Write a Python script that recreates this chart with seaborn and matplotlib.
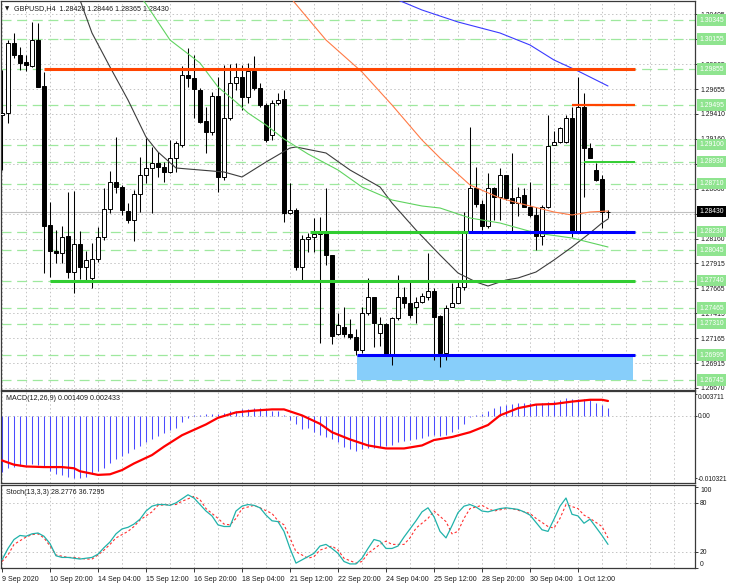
import numpy as np
import pandas as pd
import matplotlib
matplotlib.use("Agg")
import matplotlib.pyplot as plt
import seaborn as sns

# ---- candles (GBPUSD H4), bar 0 = 9 Sep 2020 12:00 ----
opens = [1.29395, 1.29415, 1.30115, 1.29995, 1.29925, 1.29885, 1.30145, 1.29685, 1.28295, 1.28035,
         1.28015, 1.28185, 1.27825, 1.28105, 1.27875, 1.27765, 1.27955, 1.28175, 1.28455, 1.28725,
         1.28675, 1.28435, 1.28345, 1.28605, 1.28795, 1.28865, 1.28915, 1.28875, 1.28825, 1.28965,
         1.29095, 1.29795, 1.29765, 1.29645, 1.29335, 1.29225, 1.29585, 1.28775, 1.29365, 1.29715,
         1.29775, 1.29575, 1.29835, 1.29665, 1.29495, 1.29195, 1.29515, 1.29555, 1.28415, 1.28445,
         1.27875, 1.28155, 1.28175, 1.28205, 1.28215, 1.27995, 1.27205, 1.27275, 1.27205, 1.27175,
         1.27045, 1.27415, 1.27575, 1.27215, 1.27305, 1.27005, 1.27365, 1.27575, 1.27515, 1.27475,
         1.27525, 1.27575, 1.27635, 1.27385, 1.27015, 1.27475, 1.27515, 1.27675, 1.28235, 1.28665,
         1.28505, 1.28285, 1.28665, 1.28575, 1.28795, 1.28565, 1.28515, 1.28595, 1.28475, 1.28395,
         1.28185, 1.28475, 1.29095, 1.29125, 1.29125, 1.29365, 1.28225, 1.29475, 1.29065, 1.28845,
         1.28755, 1.28428]
highs = [1.29845, 1.30145, 1.30215, 1.30075, 1.29995, 1.30325, 1.30315, 1.29825, 1.28525, 1.28245,
         1.28285, 1.28625, 1.28635, 1.28235, 1.28035, 1.28115, 1.28275, 1.28665, 1.28835, 1.29175,
         1.28695, 1.28515, 1.28645, 1.28975, 1.29165, 1.29075, 1.29025, 1.28925, 1.29145, 1.29135,
         1.29885, 1.30065, 1.29995, 1.29665, 1.29475, 1.29625, 1.29775, 1.29895, 1.29905, 1.29915,
         1.29895, 1.29915, 1.29985, 1.29715, 1.29515, 1.29545, 1.29615, 1.29645, 1.28715, 1.28465,
         1.28195, 1.28215, 1.28365, 1.28375, 1.28665, 1.27995, 1.27415, 1.27475, 1.27355, 1.27255,
         1.27475, 1.27765, 1.27575, 1.27375, 1.27315, 1.27375, 1.27795, 1.27675, 1.27725, 1.27575,
         1.27615, 1.28015, 1.27665, 1.27395, 1.27495, 1.27715, 1.27725, 1.28425, 1.29275, 1.28875,
         1.28545, 1.28815, 1.28675, 1.28865, 1.28795, 1.29015, 1.28675, 1.28665, 1.28725, 1.28475,
         1.28495, 1.29395, 1.29235, 1.29275, 1.29395, 1.29475, 1.29775, 1.29615, 1.29115, 1.28915,
         1.28795, 1.28446]
lows = [1.28845, 1.29315, 1.29965, 1.29845, 1.29835, 1.29875, 1.29675, 1.27815, 1.27775, 1.27915,
        1.27915, 1.27765, 1.27615, 1.27755, 1.27745, 1.27665, 1.27925, 1.28145, 1.28415, 1.28615,
        1.28395, 1.28315, 1.28135, 1.28425, 1.28715, 1.28415, 1.28775, 1.28725, 1.28815, 1.28825,
        1.29075, 1.29675, 1.29365, 1.29315, 1.29015, 1.29195, 1.28625, 1.28745, 1.29345, 1.29645,
        1.29445, 1.29515, 1.29645, 1.29475, 1.29125, 1.29145, 1.29495, 1.28325, 1.28405, 1.27845,
        1.27745, 1.28025, 1.28025, 1.27115, 1.27895, 1.27105, 1.27195, 1.27175, 1.27155, 1.26995,
        1.27015, 1.27395, 1.27075, 1.27085, 1.27005, 1.26895, 1.27345, 1.27465, 1.27365, 1.27315,
        1.27515, 1.27545, 1.26945, 1.26875, 1.26945, 1.27475, 1.27515, 1.27645, 1.28225, 1.28475,
        1.28245, 1.28265, 1.28345, 1.28345, 1.28545, 1.28215, 1.28385, 1.28475, 1.28375, 1.28045,
        1.28095, 1.28465, 1.29095, 1.29115, 1.29115, 1.28175, 1.28215, 1.28575, 1.28975, 1.28735,
        1.28265, 1.28365]
closes = [1.29415, 1.30115, 1.29995, 1.29915, 1.29895, 1.30145, 1.29675, 1.28285, 1.28035, 1.28015,
          1.28175, 1.27825, 1.28105, 1.27875, 1.27945, 1.27955, 1.28175, 1.28455, 1.28725, 1.28675,
          1.28445, 1.28345, 1.28605, 1.28795, 1.28865, 1.28915, 1.28875, 1.28825, 1.28965, 1.29115,
          1.29795, 1.29765, 1.29655, 1.29325, 1.29225, 1.29585, 1.28775, 1.29365, 1.29715, 1.29775,
          1.29575, 1.29835, 1.29665, 1.29495, 1.29145, 1.29515, 1.29545, 1.28415, 1.28445, 1.27875,
          1.28155, 1.28175, 1.28205, 1.28225, 1.27995, 1.27185, 1.27295, 1.27205, 1.27175, 1.27045,
          1.27415, 1.27575, 1.27315, 1.27305, 1.27005, 1.27365, 1.27575, 1.27515, 1.27395, 1.27525,
          1.27585, 1.27635, 1.27375, 1.27015, 1.27465, 1.27515, 1.27675, 1.28225, 1.28665, 1.28505,
          1.28285, 1.28665, 1.28575, 1.28795, 1.28565, 1.28515, 1.28575, 1.28475, 1.28395, 1.28185,
          1.28475, 1.29085, 1.29125, 1.29265, 1.29365, 1.28225, 1.29475, 1.29065, 1.28965, 1.28745,
          1.28425, 1.28430]

# moving averages (bar, price)
ma_black_bar = [11, 13, 15, 18, 21, 24, 26, 29, 33, 37, 40, 44, 48, 49, 54, 58, 63, 65, 69, 73,
                76, 79, 81, 84, 86, 89, 92, 95, 98, 100, 101]
ma_black = [1.30850, 1.30545, 1.30215, 1.29875, 1.29545, 1.29175, 1.29025, 1.28865, 1.28845, 1.28825,
            1.28775, 1.28925, 1.29065, 1.29075, 1.29015, 1.28845, 1.28675, 1.28515, 1.28245, 1.27995,
            1.27815, 1.27725, 1.27685, 1.27745, 1.27765, 1.27825, 1.27945, 1.28075, 1.28215, 1.28315,
            1.28355]
ma_green_bar = [22, 24, 28, 33, 36, 39, 41, 44, 47, 51, 56, 60, 65, 70, 73, 78, 83, 89, 95, 101]
ma_green = [1.30665, 1.30505, 1.30145, 1.29915, 1.29675, 1.29525, 1.29415, 1.29295, 1.29155, 1.29005,
            1.28845, 1.28675, 1.28545, 1.28485, 1.28465, 1.28365, 1.28315, 1.28215, 1.28165, 1.28075]
ma_orange_bar = [47, 54, 60, 65, 70, 73, 78, 83, 86, 92, 95, 98, 101]
ma_orange = [1.30645, 1.30145, 1.29825, 1.29495, 1.29145, 1.28965, 1.28695, 1.28565, 1.28515,
             1.28425, 1.28395, 1.28425, 1.28435]
ma_blue_bar = [64, 70, 76, 83, 88, 92, 96, 101]
ma_blue = [1.30595, 1.30445, 1.30325, 1.30215, 1.30095, 1.29945, 1.29835, 1.29685]

# drawn levels: price, from bar, to bar, colour, width
levels = [(1.29855, 7, 105.5, "#ff4500", 2.2),
          (1.29495, 95, 105.5, "#ff4500", 1.6),
          (1.28930, 97, 105.5, "#32cd32", 1.4),
          (1.28230, 51.3, 77.7, "#32cd32", 2.2),
          (1.28230, 77.7, 105.5, "#0000ff", 2.2),
          (1.27740, 8, 105.5, "#32cd32", 2.2),
          (1.26995, 59.2, 105.5, "#0000ff", 2.2)]
zone = (59.2, 105.2, 1.26745, 1.26995)
dashed_levels = [1.30345, 1.30155, 1.29855, 1.29495, 1.29100, 1.28930, 1.28710,
                 1.28230, 1.28045, 1.27740, 1.27465, 1.27310, 1.26995, 1.26745]
price_ticks = [1.30405, 1.30155, 1.29905, 1.29655, 1.29410, 1.29160, 1.28910, 1.28660,
               1.28410, 1.28160, 1.27915, 1.27665, 1.27415, 1.27165, 1.26915, 1.26670]
hidden_ticks = [1.30155, 1.28910, 1.28410]   # labels covered by the level boxes
last_price = 1.28430

# MACD(12,26,9), values in pips
macd_hist = [-94, -86, -85, -83, -81, -80, -82, -85, -92, -96,
             -98, -101, -103, -103, -102, -97, -92, -87, -79, -72,
             -66, -61, -55, -50, -44, -39, -34, -29, -24, -20,
             -10, -3, 1, 2, 3, 4, 3, 5, 8, 9,
             11, 12, 14, 14, 12, 9, 8, 1, -7, -14,
             -22, -20, -27, -31, -35, -39, -43, -51, -55, -59,
             -55, -53, -53, -52, -50, -48, -44, -42, -40, -38,
             -36, -33, -32, -33, -31, -27, -22, -13, -2, 1,
             4, 9, 13, 17, 19, 20, 21, 22, 21, 20,
             21, 23, 25, 27, 30, 28, 29, 28, 26, 22,
             18, 14]
macd_sig_bar = [0, 2, 4, 7, 10, 12, 13, 16, 18, 20, 22, 25, 27, 30, 34, 36, 39, 42, 45, 47,
                50, 53, 55, 58, 61, 64, 67, 70, 72, 75, 78, 81, 83, 86, 89, 92, 95, 98, 100, 101]
macd_sig = [-74, -81, -84, -85, -85, -87, -92, -98, -97, -90, -79, -65, -51, -32, -14, -3, 6, 9, 11, 11,
            1, -13, -27, -39, -49, -54, -54, -49, -40, -35, -27, -15, 1, 13, 19, 20, 24, 27, 27, 25]

# Stoch(13,3,3)
stoch_k = [10, 24, 35, 40, 39, 42, 43, 39, 30, 15, 13, 13, 12, 11, 12, 13, 17, 25, 32, 42,
           48, 50, 54, 60, 70, 76, 78, 78, 77, 80, 85, 90, 86, 78, 70, 64, 53, 51, 51, 70,
           76, 78, 77, 74, 65, 58, 57, 45, 24, 6, 10, 14, 18, 27, 29, 24, 18, 8, 5, 5,
           12, 24, 35, 33, 24, 24, 27, 38, 48, 58, 69, 74, 63, 45, 37, 52, 68, 76, 78, 75,
           70, 69, 71, 73, 74, 73, 72, 69, 65, 56, 47, 45, 60, 76, 86, 66, 64, 55, 60, 50,
           40, 29]
stoch_d_bar = [0, 1, 2, 4, 5, 6, 7, 8, 9, 11, 12, 14, 15, 16, 17, 18, 19, 21, 22, 23,
               25, 26, 28, 29, 30, 32, 33, 34, 36, 37, 38, 39, 40, 42, 43, 45, 46, 47, 48, 49,
               51, 52, 53, 55, 56, 57, 59, 60, 61, 63, 64, 65, 67, 68, 69, 71, 72, 74, 75, 76,
               77, 78, 80, 81, 82, 84, 85, 86, 88, 89, 91, 92, 93, 94, 96, 97, 98, 100, 101]
stoch_d = [8, 16, 29, 38, 41, 42, 37, 27, 16, 13, 13, 11, 11, 16, 22, 29, 37, 45, 51, 59,
           69, 77, 78, 78, 82, 88, 84, 73, 61, 54, 53, 61, 73, 77, 74, 67, 58, 53, 37, 20,
           12, 14, 22, 27, 22, 12, 6, 8, 18, 29, 33, 29, 29, 37, 49, 61, 70, 57, 42, 45,
           61, 73, 77, 73, 70, 73, 73, 71, 67, 61, 51, 49, 61, 78, 73, 65, 61, 51, 37]

date_ticks = ["9 Sep 2020", "10 Sep 20:00", "14 Sep 04:00", "15 Sep 12:00", "16 Sep 20:00",
              "18 Sep 04:00", "21 Sep 12:00", "22 Sep 20:00", "24 Sep 04:00", "25 Sep 12:00",
              "28 Sep 20:00", "30 Sep 04:00", "1 Oct 12:00"]

sns.set_theme(style="white")
plt.rcParams["font.family"] = ["Liberation Sans", "DejaVu Sans"]

W, H = 730, 584
fig = plt.figure(figsize=(W / 100, H / 100), dpi=100)
fig.patch.set_facecolor("white")


def px_rect(x0, y0, x1, y1):
    return [x0 / W, 1 - y1 / H, (x1 - x0) / W, (y1 - y0) / H]


ax = fig.add_axes(px_rect(1, 1, 695, 390))
axm = fig.add_axes(px_rect(1, 391, 695, 483), sharex=ax)
axs = fig.add_axes(px_rect(1, 485, 695, 568), sharex=ax)

GRID = dict(color="#c4c4c4", lw=0.7, ls=(0, (1.5, 2.5)), zorder=0.5)
TXT = "#1a1a1a"

for a in (ax, axm, axs):
    a.set_facecolor("white")
    for s in a.spines.values():
        s.set_color("#3a3a3a")
        s.set_linewidth(0.9)
    a.yaxis.tick_right()
    a.tick_params(axis="y", direction="out", length=2.5, width=0.6, pad=1.2,
                  labelsize=4.9, colors=TXT, right=True, left=False)
    a.tick_params(axis="x", bottom=False, labelbottom=False)
    for b in range(0, 116, 4):
        a.axvline(b, **GRID)

ax.set_xlim(-1 / 6, 115.5)

# ---- main price panel ----
ax.set_ylim(1.26645, 1.30535)
ax.set_yticks(price_ticks)
ax.set_yticklabels(["" if p in hidden_ticks else f"{p:.5f}" for p in price_ticks])
for p in price_ticks:
    ax.axhline(p, **GRID)
for p in dashed_levels:
    ax.axhline(p, color="#9ee89e", lw=0.9, ls=(0, (8, 4.5)), zorder=1)
ax.axhline(last_price, color="#c0c0c0", lw=0.8, zorder=1.2)

df = pd.DataFrame({"open": opens, "high": highs, "low": lows, "close": closes})
df["bar"] = np.arange(len(df))
df["bottom"] = df[["open", "close"]].min(axis=1)
df["height"] = (df["close"] - df["open"]).abs().clip(lower=0.00002)
up = df["close"] >= df["open"]
ax.vlines(df["bar"], df["low"], df["high"], color="black", lw=0.75, zorder=3)
ax.bar(df.loc[up, "bar"], df.loc[up, "height"], bottom=df.loc[up, "bottom"], width=0.7,
       color="white", edgecolor="black", linewidth=0.7, zorder=4)
ax.bar(df.loc[~up, "bar"], df.loc[~up, "height"], bottom=df.loc[~up, "bottom"], width=0.7,
       color="black", edgecolor="black", linewidth=0.7, zorder=4)

for xs, ys, col in [(ma_black_bar, ma_black, "#3c3c3c"), (ma_green_bar, ma_green, "#5fd35f"),
                    (ma_orange_bar, ma_orange, "#ff7a45"), (ma_blue_bar, ma_blue, "#3a3aff")]:
    sns.lineplot(x=xs, y=ys, ax=ax, color=col, lw=0.8, zorder=5, legend=False)

ax.fill_between([zone[0], zone[1]], zone[2], zone[3], color="#87cefa", lw=0, zorder=2)
for price, b0, b1, col, lw in levels:
    ax.hlines(price, b0, b1, color=col, lw=lw, zorder=6)

ytr = ax.get_yaxis_transform()
for p in dashed_levels:
    ax.text(1 + 4 / 694, p, f"{p:.5f}", transform=ytr, ha="left", va="center", fontsize=4.9,
            color="white", clip_on=False, zorder=10,
            bbox=dict(boxstyle="square,pad=0.35", fc="#8fe48f", ec="none"))
ax.text(1 + 4 / 694, last_price, f"{last_price:.5f}", transform=ytr, ha="left", va="center",
        fontsize=4.9, color="white", clip_on=False, zorder=11,
        bbox=dict(boxstyle="square,pad=0.35", fc="black", ec="none"))

ax.text(4 / 694, 1 - 8 / 389, "\u25bc", transform=ax.transAxes, fontsize=4, color=TXT,
        va="center", ha="left", family=["DejaVu Sans"])
ax.text(13 / 694, 1 - 8 / 389, "GBPUSD,H4  1.28428 1.28446 1.28365 1.28430",
        transform=ax.transAxes, fontsize=5.1, color=TXT, va="center", ha="left")

# ---- MACD panel ----
axm.set_ylim(-0.01115, 0.00416)
axm.axhline(0, **GRID)
axm.vlines(np.arange(len(macd_hist)), 0, np.array(macd_hist) * 1e-4, color="#4b4bff", lw=0.75,
           zorder=2)
sns.lineplot(x=macd_sig_bar, y=np.array(macd_sig) * 1e-4, ax=axm, color="#ff0000", lw=1.6,
             zorder=3, legend=False)
axm.set_yticks([0.003711, 0.0, -0.010321])
axm.set_yticklabels(["0.003711", "0.00", "-0.010321"])
axm.tick_params(axis="y", length=1.5, pad=0.5, labelsize=4.8)
axm.get_yticklabels()[0].set_va("top")
axm.text(5 / 694, 1 - 7 / 92, "MACD(12,26,9) 0.001409 0.002433", transform=axm.transAxes,
         fontsize=5.1, color=TXT, va="center", ha="left")

# ---- Stochastic panel ----
axs.set_ylim(0, 102)
for lv in (20, 80):
    axs.axhline(lv, **GRID)
sns.lineplot(x=np.arange(len(stoch_k)), y=stoch_k, ax=axs, color="#20b2aa", lw=0.9, zorder=3,
             legend=False)
sns.lineplot(x=stoch_d_bar, y=stoch_d, ax=axs, color="#ff3030", lw=0.8, zorder=2, legend=False)
axs.lines[-1].set_linestyle((0, (2.2, 2)))
axs.set_yticks([100, 80, 20, 0])
axs.set_yticklabels(["100", "80", "20", "0"])
axs.get_yticklabels()[0].set_va("top")
axs.get_yticklabels()[3].set_va("bottom")
axs.text(5 / 694, 1 - 7 / 83, "Stoch(13,3,3) 28.2776 36.7295", transform=axs.transAxes,
         fontsize=5.1, color=TXT, va="center", ha="left")

axs.set_xticks(range(0, 8 * len(date_ticks), 8))
axs.set_xticklabels(date_ticks)
axs.tick_params(axis="x", bottom=True, labelbottom=True, direction="out", length=3, width=0.6,
                pad=2.5, labelsize=5.1, colors=TXT)
for lab in axs.get_xticklabels():
    lab.set_ha("left")

for a in (ax, axm, axs):
    a.set_xlabel("")
    a.set_ylabel("")

fig.savefig("out.png", dpi=100, facecolor="white")
